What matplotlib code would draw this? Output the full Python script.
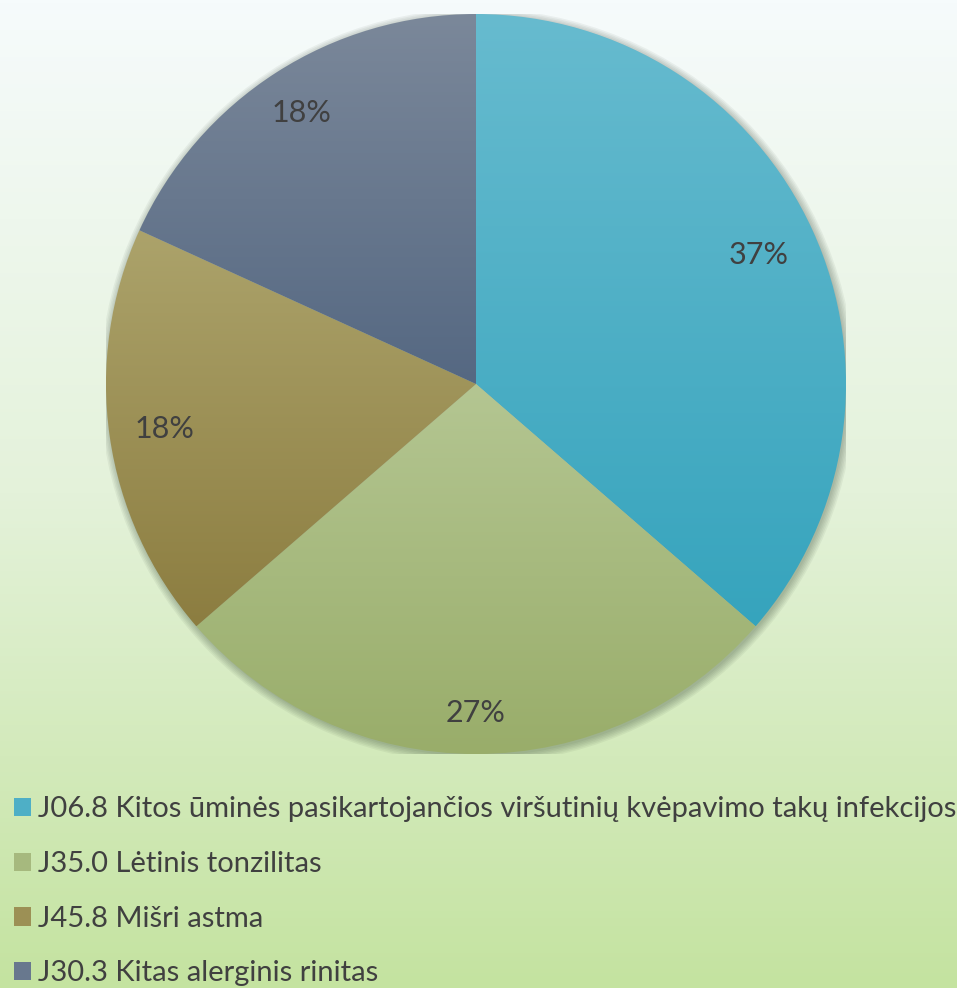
import numpy as np
import matplotlib.pyplot as plt
from matplotlib.colors import LinearSegmentedColormap
from matplotlib.patches import Patch, Circle

plt.rcParams['font.family'] = ['Lato', 'DejaVu Sans']

# data (4 : 3 : 2 : 2 patients), labels as printed on the chart
labels = ["J06.8 Kitos ūminės pasikartojančios viršutinių kvėpavimo takų infekcijos",
          "J35.0 Lėtinis tonzilitas",
          "J45.8 Mišri astma",
          "J30.3 Kitas alerginis rinitas"]
values = [4, 3, 2, 2]
pct_labels = ["37%", "27%", "18%", "18%"]
label_dist = [0.84, 0.89, 0.85, 0.87]  # "best fit" placement
top_cols = ["#67bbcf", "#b4c692", "#aca36b", "#7b889a"]
bot_cols = ["#36a4bd", "#99ad6a", "#8c7d40", "#556882"]

W, H = 957, 988
fig = plt.figure(figsize=(W / 100, H / 100), dpi=100)

# background gradient
bg = fig.add_axes([0, 0, 1, 1])
bg.axis("off")
bg_cmap = LinearSegmentedColormap.from_list("bg", ["#f6fbfc", "#e4f2da", "#c4e3a0"])
bg.imshow(np.linspace(0, 1, 256).reshape(-1, 1), aspect="auto", cmap=bg_cmap,
          extent=[0, 1, 0, 1])
bg.set_xlim(0, 1)
bg.set_ylim(0, 1)

# pie axes: centre (476, 384) px, radius 370 px
cx, cy, R = 476, 384, 370
ax = fig.add_axes([(cx - R) / W, (H - cy - R) / H, 2 * R / W, 2 * R / H])
ax.set_xlim(-1, 1)
ax.set_ylim(-1, 1)
ax.axis("off")

# soft shadow
for k in range(6):
    ax.add_patch(Circle((0.004, -0.006), 1.0 + 0.004 * k, color="#2a3a2a",
                        alpha=0.06, lw=0, zorder=0))

wedges, texts = ax.pie(values, startangle=90, counterclock=False, radius=1,
                       labels=pct_labels, labeldistance=1.0,
                       textprops=dict(fontsize=22, color="#404040",
                                      ha="center", va="center"),
                       wedgeprops=dict(lw=0))

for w, c1, c2 in zip(wedges, top_cols, bot_cols):
    w.set_facecolor("none")
    ext = w.get_path().get_extents(w.get_patch_transform())
    cm = LinearSegmentedColormap.from_list("g", [c2, c1])
    im = ax.imshow(np.linspace(0, 1, 256).reshape(-1, 1), cmap=cm, aspect="auto",
                   origin="lower", extent=[-1, 1, ext.y0, ext.y1], zorder=1)
    im.set_clip_path(w)

# move each percentage label along its wedge bisector
for w, t, d in zip(wedges, texts, label_dist):
    ang = np.deg2rad((w.theta1 + w.theta2) / 2)
    t.set_position((d * np.cos(ang), d * np.sin(ang)))
    t.set_horizontalalignment("center")
    t.set_zorder(5)

ax.set_xlim(-1, 1)
ax.set_ylim(-1, 1)

# legend
mid_cols = [LinearSegmentedColormap.from_list("m", [a, b])(0.5)
            for a, b in zip(top_cols, bot_cols)]
handles = [Patch(facecolor=c, edgecolor="none") for c in mid_cols]
fig.legend(handles, labels, loc="upper left", bbox_to_anchor=(-0.004, 1 - 779 / H),
           frameon=False, fontsize=21, labelcolor="#404040",
           handlelength=0.6, handleheight=0.6, handletextpad=0.25,
           labelspacing=0.98, borderaxespad=0.2)

fig.savefig("out.png", dpi=100)
